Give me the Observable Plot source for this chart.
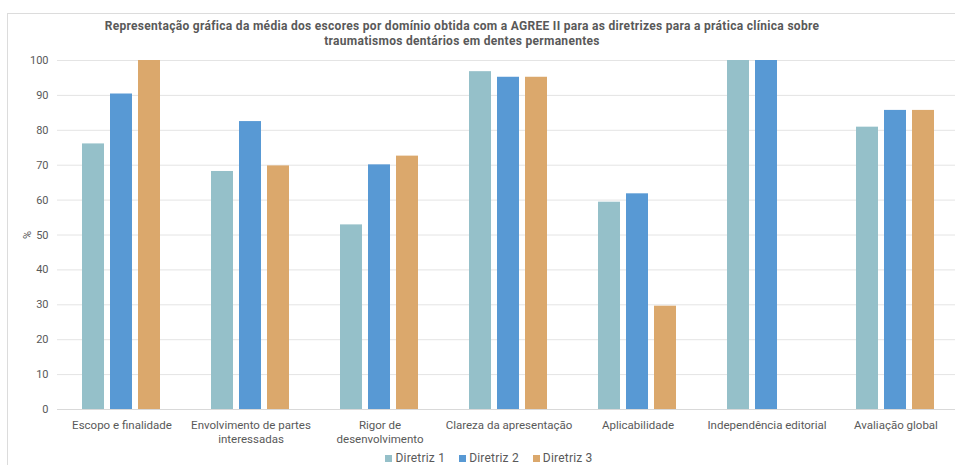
<!DOCTYPE html>
<html>
<head>
<meta charset="utf-8">
<script src="https://cdn.jsdelivr.net/npm/d3@7"></script>
<script src="https://cdn.jsdelivr.net/npm/@observablehq/plot@0.6"></script>
<style>
  html, body { margin: 0; padding: 0; background: #fff; }
  #wrap { position: relative; width: 955px; height: 465px; overflow: hidden; font-family: Roboto, sans-serif; }
  #frame { position: absolute; left: 7px; top: 13px; width: 970px; height: 470px; border: 1px solid #dcdcdc; box-sizing: border-box; }
  #title { position: absolute; left: 0; width: 924px; top: 19px; text-align: center; font-size: 12px; font-weight: bold; color: #595959; line-height: 15px; letter-spacing: 0.3px; }
  #chart { position: absolute; left: 0; top: 0; }
  #legend { position: absolute; left: 0; width: 978px; top: 451px; display: flex; justify-content: center; gap: 14px; font-size: 12px; color: #595959; letter-spacing: 0.2px; }
  #legend .item { display: flex; align-items: center; gap: 3px; }
  #legend .sw { width: 7px; height: 7px; display: inline-block; }
</style>
</head>
<body>
<div id="wrap">
  <div id="frame"></div>
  <div id="chart"></div>
  <div id="title"></div>
  <div id="legend"></div>
</div>
<script>
const titleLines = [
  "Representação gráfica da média dos escores por domínio obtida com a AGREE II para as diretrizes para a prática clínica sobre",
  "traumatismos dentários em dentes permanentes"
];
const categories = [
  "Escopo e finalidade",
  "Envolvimento de partes\ninteressadas",
  "Rigor de\ndesenvolvimento",
  "Clareza da apresentação",
  "Aplicabilidade",
  "Independência editorial",
  "Avaliação global"
];
const seriesNames = ["Diretriz 1", "Diretriz 2", "Diretriz 3"];
const seriesColors = ["#95c0c9", "#5899d4", "#dba86c"];
const diretriz1 = [76.1, 68.2, 52.9, 96.8, 59.4, 100, 80.9];
const diretriz2 = [90.4, 82.5, 70.1, 95.2, 61.8, 100, 85.7];
const diretriz3 = [100, 69.8, 72.6, 95.2, 29.6, 0, 85.7];
const yTicks = [0, 10, 20, 30, 40, 50, 60, 70, 80, 90, 100];
const yLabel = "%";

const seriesValues = [diretriz1, diretriz2, diretriz3];
const data = [];
categories.forEach((c, i) => {
  seriesNames.forEach((s, j) => {
    data.push({cat: c, series: s, value: seriesValues[j][i]});
  });
});

document.getElementById("title").innerHTML = titleLines.map(t => `<div>${t}</div>`).join("");

const chart = Plot.plot({
  width: 955,
  height: 465,
  marginTop: 60,
  marginBottom: 56,
  marginLeft: 55,
  marginRight: -7,
  style: {fontFamily: "Roboto, sans-serif", fontSize: "11.5px", color: "#595959", background: "transparent"},
  fx: {domain: categories, paddingInner: 0, paddingOuter: 0},
  x: {domain: seriesNames, paddingInner: 0.2, paddingOuter: 0.886, axis: null},
  y: {domain: [0, 100]},
  color: {domain: seriesNames, range: seriesColors},
  marks: [
    Plot.gridY(yTicks, {stroke: "#e4e4e4", strokeOpacity: 1}),
    Plot.axisY(yTicks, {tickSize: 0, tickPadding: 9, label: yLabel, labelAnchor: "center", labelOffset: 34, labelArrow: "none", fontSize: 11}),
    Plot.axisFx({anchor: "bottom", tickSize: 0, tickPadding: 9, lineHeight: 1.25, label: null}),
    Plot.barY(data, {fx: "cat", x: "series", y: "value", fill: "series"}),
    Plot.ruleY([0], {stroke: "#d9d9d9"})
  ]
});
document.getElementById("chart").appendChild(chart);

const legend = d3.select("#legend");
seriesNames.forEach((s, i) => {
  const it = legend.append("div").attr("class", "item");
  it.append("span").attr("class", "sw").style("background", seriesColors[i]);
  it.append("span").text(s);
});
</script>
</body>
</html>
